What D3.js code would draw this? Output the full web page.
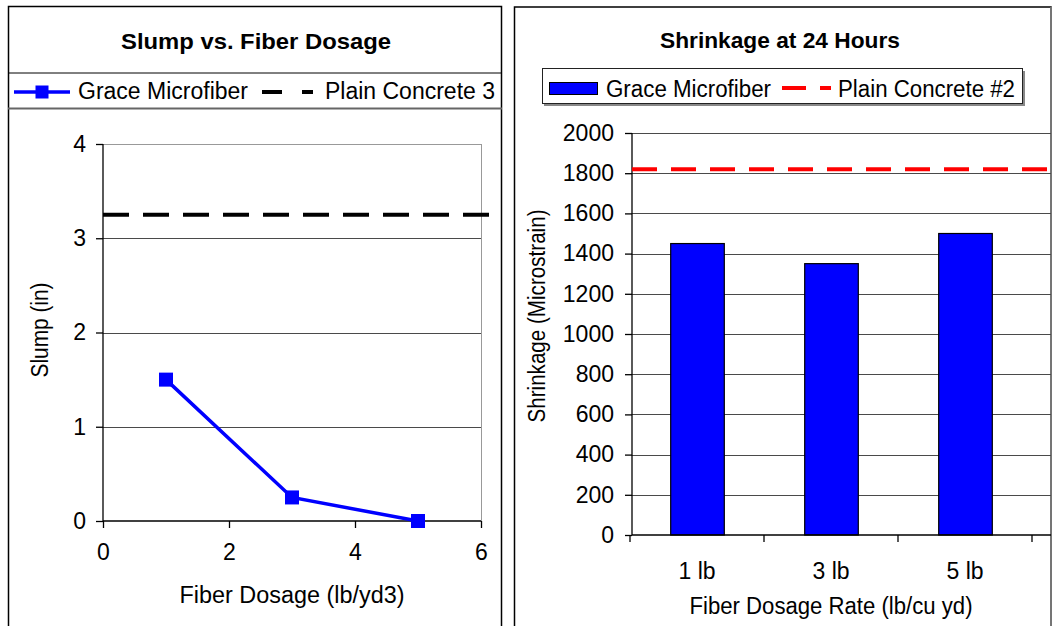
<!DOCTYPE html>
<html>
<head>
<meta charset="utf-8">
<script src="https://cdn.jsdelivr.net/npm/d3@7/dist/d3.min.js"></script>
<style>
  html, body { margin: 0; padding: 0; background: #fff; }
  text { font-family: "Liberation Sans", Arial, sans-serif; fill: #000; }
</style>
</head>
<body>
<svg id="chart" width="1052" height="626"></svg>
<script>
// ---------- DATA ----------
const slumpTitle = "Slump vs. Fiber Dosage";
const slumpDosage = [1, 3, 5];
const slumpValues = [1.5, 0.25, 0];
const slumpPlainValue = 3.25;
const slumpPlainSpan = [0, 6.15];
const slumpXTicks = [0, 2, 4, 6];
const slumpYTicks = [0, 1, 2, 3, 4];
const slumpSeriesNames = ["Grace Microfiber", "Plain Concrete 3"];
const slumpXLabel = "Fiber Dosage (lb/yd3)";
const slumpYLabel = "Slump (in)";

const shrinkTitle = "Shrinkage at 24 Hours";
const shrinkCategories = ["1 lb", "3 lb", "5 lb"];
const shrinkValues = [1450, 1350, 1500];
const shrinkPlainValue = 1820;
const shrinkYTicks = [0, 200, 400, 600, 800, 1000, 1200, 1400, 1600, 1800, 2000];
const shrinkSeriesNames = ["Grace Microfiber", "Plain Concrete #2"];
const shrinkXLabel = "Fiber Dosage Rate (lb/cu yd)";
const shrinkYLabel = "Shrinkage (Microstrain)";

// ---------- SETUP ----------
const svg = d3.select("#chart");
svg.append("rect").attr("width", 1052).attr("height", 626).attr("fill", "#fff");
const BLUE = "#0000ff";
const GRID = "#4a4a4a";
const FS = 23;

function fit(sel, len) {
  return sel.attr("textLength", len).attr("lengthAdjust", "spacingAndGlyphs");
}

// ================= LEFT PANEL =================
const L = svg.append("g");
L.append("rect").attr("x", 8.5).attr("y", 6.5).attr("width", 493).attr("height", 650)
  .attr("fill", "none").attr("stroke", "#000").attr("stroke-width", 1.5);
L.append("line").attr("x1", 8).attr("x2", 502).attr("y1", 73).attr("y2", 73)
  .attr("stroke", "#000").attr("stroke-width", 1);
L.append("line").attr("x1", 8).attr("x2", 502).attr("y1", 108.5).attr("y2", 108.5)
  .attr("stroke", "#666").attr("stroke-width", 2);

fit(L.append("text").attr("x", 256).attr("y", 49).attr("text-anchor", "middle")
  .attr("font-size", 22).attr("font-weight", "bold").text(slumpTitle), 270);

// legend
L.append("line").attr("x1", 14).attr("x2", 70).attr("y1", 92).attr("y2", 92)
  .attr("stroke", BLUE).attr("stroke-width", 3.5);
L.append("rect").attr("x", 42 - 6.5).attr("y", 92 - 6.5).attr("width", 13).attr("height", 13).attr("fill", BLUE);
fit(L.append("text").attr("x", 78).attr("y", 99).attr("font-size", FS).text(slumpSeriesNames[0]), 170);
L.append("line").attr("x1", 262).attr("x2", 313).attr("y1", 92).attr("y2", 92)
  .attr("stroke", "#000").attr("stroke-width", 4).attr("stroke-dasharray", "20,20");
fit(L.append("text").attr("x", 325).attr("y", 99).attr("font-size", FS).text(slumpSeriesNames[1]), 170);

// scales
const lx = d3.scaleLinear().domain([0, 6]).range([103, 481]);
const ly = d3.scaleLinear().domain([0, 4]).range([521, 144]);

// gridlines
L.selectAll("line.grid").data(slumpYTicks.filter(d => d > 0)).join("line")
  .attr("class", "grid")
  .attr("x1", lx(0)).attr("x2", lx(6)).attr("y1", d => Math.round(ly(d)) + 0.5).attr("y2", d => Math.round(ly(d)) + 0.5)
  .attr("stroke", (d) => d === 4 ? "#999" : GRID).attr("stroke-width", 1);
L.append("line").attr("x1", Math.round(lx(6)) + 0.5).attr("x2", Math.round(lx(6)) + 0.5)
  .attr("y1", ly(4)).attr("y2", ly(0)).attr("stroke", "#999").attr("stroke-width", 1);

// axes
const lyAxis = d3.axisLeft(ly).tickValues(slumpYTicks).tickSize(7).tickPadding(10).tickFormat(d3.format("d"));
const lxAxis = d3.axisBottom(lx).tickValues(slumpXTicks).tickSize(7).tickPadding(16).tickFormat(d3.format("d"));
const gLy = L.append("g").attr("transform", `translate(${lx(0)},0)`).call(lyAxis);
const gLx = L.append("g").attr("transform", `translate(0,${ly(0)})`).call(lxAxis);
[gLy, gLx].forEach(g => {
  g.attr("font-size", FS).attr("font-family", "Liberation Sans, Arial, sans-serif");
  g.select(".domain").attr("stroke", "#000").attr("stroke-width", 1.3);
  g.selectAll(".tick line").attr("stroke", "#000").attr("stroke-width", 1.3);
  g.selectAll(".tick text").attr("font-size", FS).attr("fill", "#000");
});
gLy.select(".domain").attr("d", `M0,${ly(4)}V${ly(0)}`);
gLx.select(".domain").attr("d", `M${lx(0)},0H${lx(6)}`);

// plain concrete dashed line
L.append("line").attr("x1", lx(slumpPlainSpan[0])).attr("x2", lx(slumpPlainSpan[1]))
  .attr("y1", ly(slumpPlainValue)).attr("y2", ly(slumpPlainValue))
  .attr("stroke", "#000").attr("stroke-width", 4).attr("stroke-dasharray", "26,14");

// series line
const slumpPts = slumpDosage.map((d, i) => [d, slumpValues[i]]);
L.append("path").datum(slumpPts)
  .attr("d", d3.line().x(d => lx(d[0])).y(d => ly(d[1])))
  .attr("fill", "none").attr("stroke", BLUE).attr("stroke-width", 3.5);
L.selectAll("rect.mk").data(slumpPts).join("rect").attr("class", "mk")
  .attr("x", d => lx(d[0]) - 7).attr("y", d => ly(d[1]) - 7)
  .attr("width", 14).attr("height", 14).attr("fill", BLUE);

// axis titles
fit(L.append("text").attr("x", 292).attr("y", 603).attr("text-anchor", "middle").attr("font-size", FS).text(slumpXLabel), 225);
fit(L.append("text").attr("transform", "translate(48,330) rotate(-90)").attr("text-anchor", "middle")
  .attr("font-size", FS).text(slumpYLabel), 95);

// ================= RIGHT PANEL =================
const R = svg.append("g");
R.append("rect").attr("x", 514.5).attr("y", 7).attr("width", 536.5).attr("height", 650)
  .attr("fill", "none").attr("stroke", "#000").attr("stroke-width", 1.5);
R.append("line").attr("x1", 1051).attr("x2", 1051).attr("y1", 7).attr("y2", 626)
  .attr("stroke", "#888").attr("stroke-width", 1.5);

fit(R.append("text").attr("x", 780).attr("y", 48).attr("text-anchor", "middle")
  .attr("font-size", 22).attr("font-weight", "bold").text(shrinkTitle), 240);

// legend box
R.append("rect").attr("x", 544).attr("y", 71).attr("width", 481).attr("height", 35).attr("fill", "#888");
R.append("rect").attr("x", 542.5).attr("y", 68.5).attr("width", 480).attr("height", 35)
  .attr("fill", "#fff").attr("stroke", "#222").attr("stroke-width", 1);
R.append("rect").attr("x", 549.5).attr("y", 82.5).attr("width", 48).attr("height", 12)
  .attr("fill", BLUE).attr("stroke", "#000").attr("stroke-width", 1);
fit(R.append("text").attr("x", 606).attr("y", 97).attr("font-size", FS).text(shrinkSeriesNames[0]), 165);
R.append("line").attr("x1", 782).attr("x2", 831).attr("y1", 88).attr("y2", 88)
  .attr("stroke", "#ff0000").attr("stroke-width", 4).attr("stroke-dasharray", "24,14");
fit(R.append("text").attr("x", 838).attr("y", 97).attr("font-size", FS).text(shrinkSeriesNames[1]), 177);

// scales
const rx = d3.scaleBand().domain(shrinkCategories).range([630, 1032]).paddingInner(0.6).paddingOuter(0.3);
const ry = d3.scaleLinear().domain([0, 2000]).range([535, 133]);
const plotRight = 1051;
const yAxisX = 632;

// gridlines
R.selectAll("line.grid").data(shrinkYTicks.filter(d => d > 0)).join("line")
  .attr("class", "grid")
  .attr("x1", yAxisX).attr("x2", plotRight)
  .attr("y1", d => Math.round(ry(d)) + 0.5).attr("y2", d => Math.round(ry(d)) + 0.5)
  .attr("stroke", GRID).attr("stroke-width", 1);

// bars
R.selectAll("rect.bar").data(shrinkCategories).join("rect").attr("class", "bar")
  .attr("x", d => rx(d) + 0.5).attr("width", rx.bandwidth())
  .attr("y", (d, i) => ry(shrinkValues[i])).attr("height", (d, i) => ry(0) - ry(shrinkValues[i]))
  .attr("fill", BLUE).attr("stroke", "#000").attr("stroke-width", 1.2);

// y axis
const ryAxis = d3.axisLeft(ry).tickValues(shrinkYTicks).tickSize(7).tickPadding(11).tickFormat(d3.format("d"));
const gRy = R.append("g").attr("transform", `translate(${yAxisX},0)`).call(ryAxis);
gRy.attr("font-size", FS).attr("font-family", "Liberation Sans, Arial, sans-serif");
gRy.select(".domain").attr("d", `M0,${ry(2000)}V${ry(0)}`).attr("stroke", "#000").attr("stroke-width", 1.3);
gRy.selectAll(".tick line").attr("stroke", "#000").attr("stroke-width", 1.3);
gRy.selectAll(".tick text").attr("font-size", FS).attr("fill", "#000");

// x axis line and band boundary ticks
R.append("line").attr("x1", yAxisX).attr("x2", plotRight).attr("y1", ry(0)).attr("y2", ry(0))
  .attr("stroke", "#000").attr("stroke-width", 1.3);
const bounds = d3.range(shrinkCategories.length + 1).map(i => rx.range()[0] + i * rx.step());
R.selectAll("line.xt").data(bounds).join("line").attr("class", "xt")
  .attr("x1", d => d).attr("x2", d => d).attr("y1", ry(0)).attr("y2", ry(0) + 7)
  .attr("stroke", "#000").attr("stroke-width", 1.3);
R.selectAll("text.xl").data(shrinkCategories).join("text").attr("class", "xl")
  .attr("x", d => rx(d) + rx.bandwidth() / 2).attr("y", 579).attr("text-anchor", "middle")
  .attr("font-size", FS).text(d => d);

// plain concrete dashed line
R.append("line").attr("x1", yAxisX).attr("x2", plotRight)
  .attr("y1", ry(shrinkPlainValue)).attr("y2", ry(shrinkPlainValue))
  .attr("stroke", "#ff0000").attr("stroke-width", 4).attr("stroke-dasharray", "25,14");

// axis titles
fit(R.append("text").attr("x", 831).attr("y", 614).attr("text-anchor", "middle").attr("font-size", FS).text(shrinkXLabel), 283);
fit(R.append("text").attr("transform", "translate(545,316) rotate(-90)").attr("text-anchor", "middle")
  .attr("font-size", FS).text(shrinkYLabel), 213);
</script>
</body>
</html>
